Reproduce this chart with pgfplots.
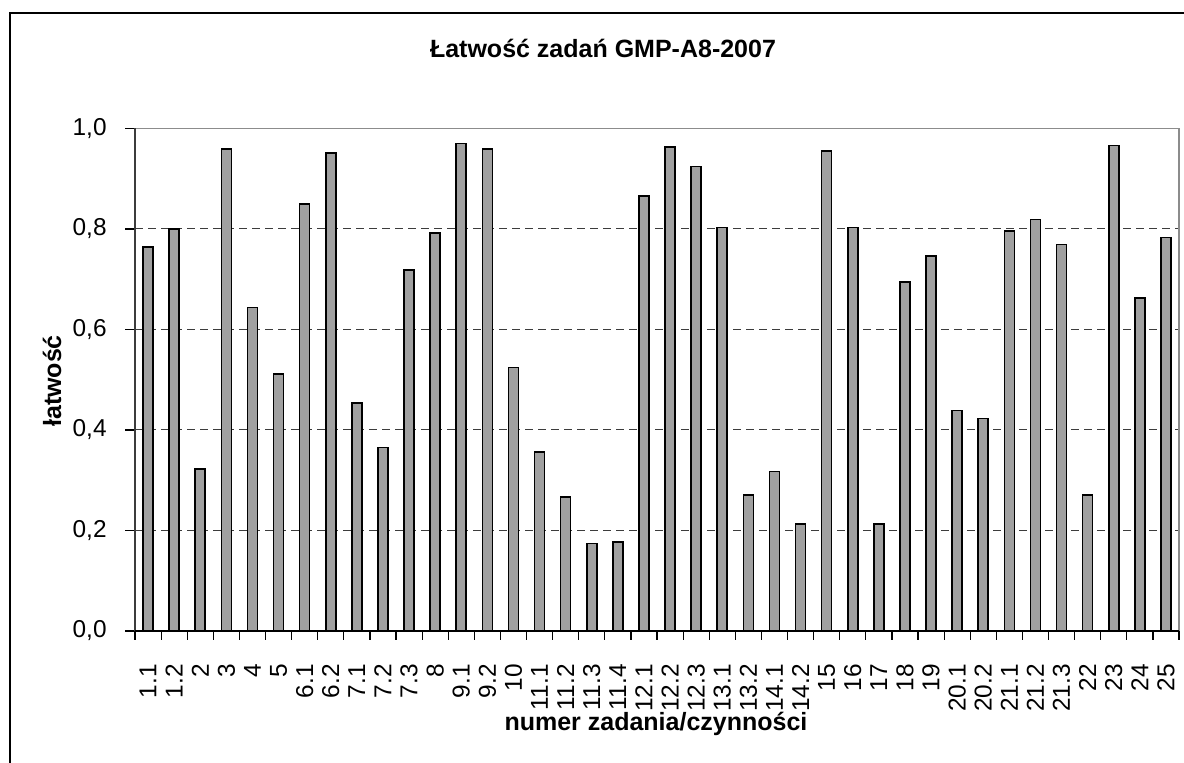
\documentclass[border=0pt]{standalone}
\usepackage{fontspec}
\setmainfont{Liberation Sans}
\usepackage{pgfplots}
\pgfplotsset{compat=1.18}
\definecolor{barfill}{RGB}{160,160,160}
\definecolor{gridc}{RGB}{60,60,60}
\definecolor{boxgray}{RGB}{140,140,140}
\newcommand\tfs{\fontsize{12.2}{14}\selectfont}
\begin{document}
\begin{tikzpicture}
\useasboundingbox (0,0) rectangle (592pt,381.5pt);
\draw[line width=1.4pt] (5pt,-5pt) -- (5pt,375pt) -- (600pt,375pt);
\begin{axis}[
  at={(67.5pt,66pt)}, anchor=south west,
  scale only axis, width=522pt, height=251.25pt,
  xmin=-0.5, xmax=39.5, ymin=0, ymax=1,
  clip=false,
  axis line style={draw=none},
  ytick={0,0.2,0.4,0.6,0.8,1.0},
  xtick={0,...,39},
  xticklabels={1.1,1.2,2,3,4,5,6.1,6.2,7.1,7.2,7.3,8,9.1,9.2,10,11.1,11.2,11.3,11.4,12.1,12.2,12.3,13.1,13.2,14.1,14.2,15,16,17,18,19,20.1,20.2,21.1,21.2,21.3,22,23,24,25},
  minor xtick={-0.5,0.5,...,39.5},
  major x tick style={draw=none},
  tick align=outside,
  major tick length=5pt, minor tick length=4.5pt,
  tick style={black, line width=0.6pt},
  xtick pos=bottom, ytick pos=left,
  /pgf/number format/assume math mode=true,
  /pgf/number format/fixed,
  /pgf/number format/fixed zerofill,
  /pgf/number format/precision=1,
  /pgf/number format/use comma,
  yticklabel style={anchor=east, inner sep=0pt, font=\tfs},
  xticklabel style={rotate=90, anchor=east, inner sep=0pt, font=\tfs},
  yticklabel shift=9pt,
  xticklabel shift=11.5pt,
  ymajorgrids,
  grid style={gridc, line width=0.5pt, dash pattern=on 4pt off 2.5pt},
]
\addplot[ybar, bar width=5pt, fill=barfill, draw=black, line width=0.8pt] coordinates {
(0,0.764) (1,0.800) (2,0.322) (3,0.959) (4,0.644) (5,0.512) (6,0.850) (7,0.951) (8,0.454) (9,0.365)
(10,0.718) (11,0.792) (12,0.970) (13,0.959) (14,0.524) (15,0.356) (16,0.267) (17,0.174) (18,0.177) (19,0.866)
(20,0.963) (21,0.924) (22,0.803) (23,0.271) (24,0.317) (25,0.213) (26,0.955) (27,0.803) (28,0.213) (29,0.695)
(30,0.746) (31,0.439) (32,0.423) (33,0.796) (34,0.819) (35,0.769) (36,0.271) (37,0.966) (38,0.663) (39,0.783)
};
\draw[boxgray, line width=0.9pt] (rel axis cs:0,1) -- (rel axis cs:1,1) -- (rel axis cs:1,0);
\draw[gridc, line width=0.6pt] (rel axis cs:0,1) -- (rel axis cs:0,0);
\draw[black, line width=0.8pt] (rel axis cs:0,0) -- (rel axis cs:1,0);
\end{axis}
\node[anchor=base, font=\fontsize{12.5}{15}\selectfont\bfseries] at (301.5pt,352.5pt) {Łatwość zadań GMP-A8-2007};
\node[anchor=base, font=\fontsize{12.5}{15}\selectfont\bfseries] at (328pt,16pt) {numer zadania/czynności};
\node[anchor=base, rotate=90, font=\fontsize{12.5}{15}\selectfont\bfseries] at (30.5pt,191pt) {łatwość};
\end{tikzpicture}
\end{document}
